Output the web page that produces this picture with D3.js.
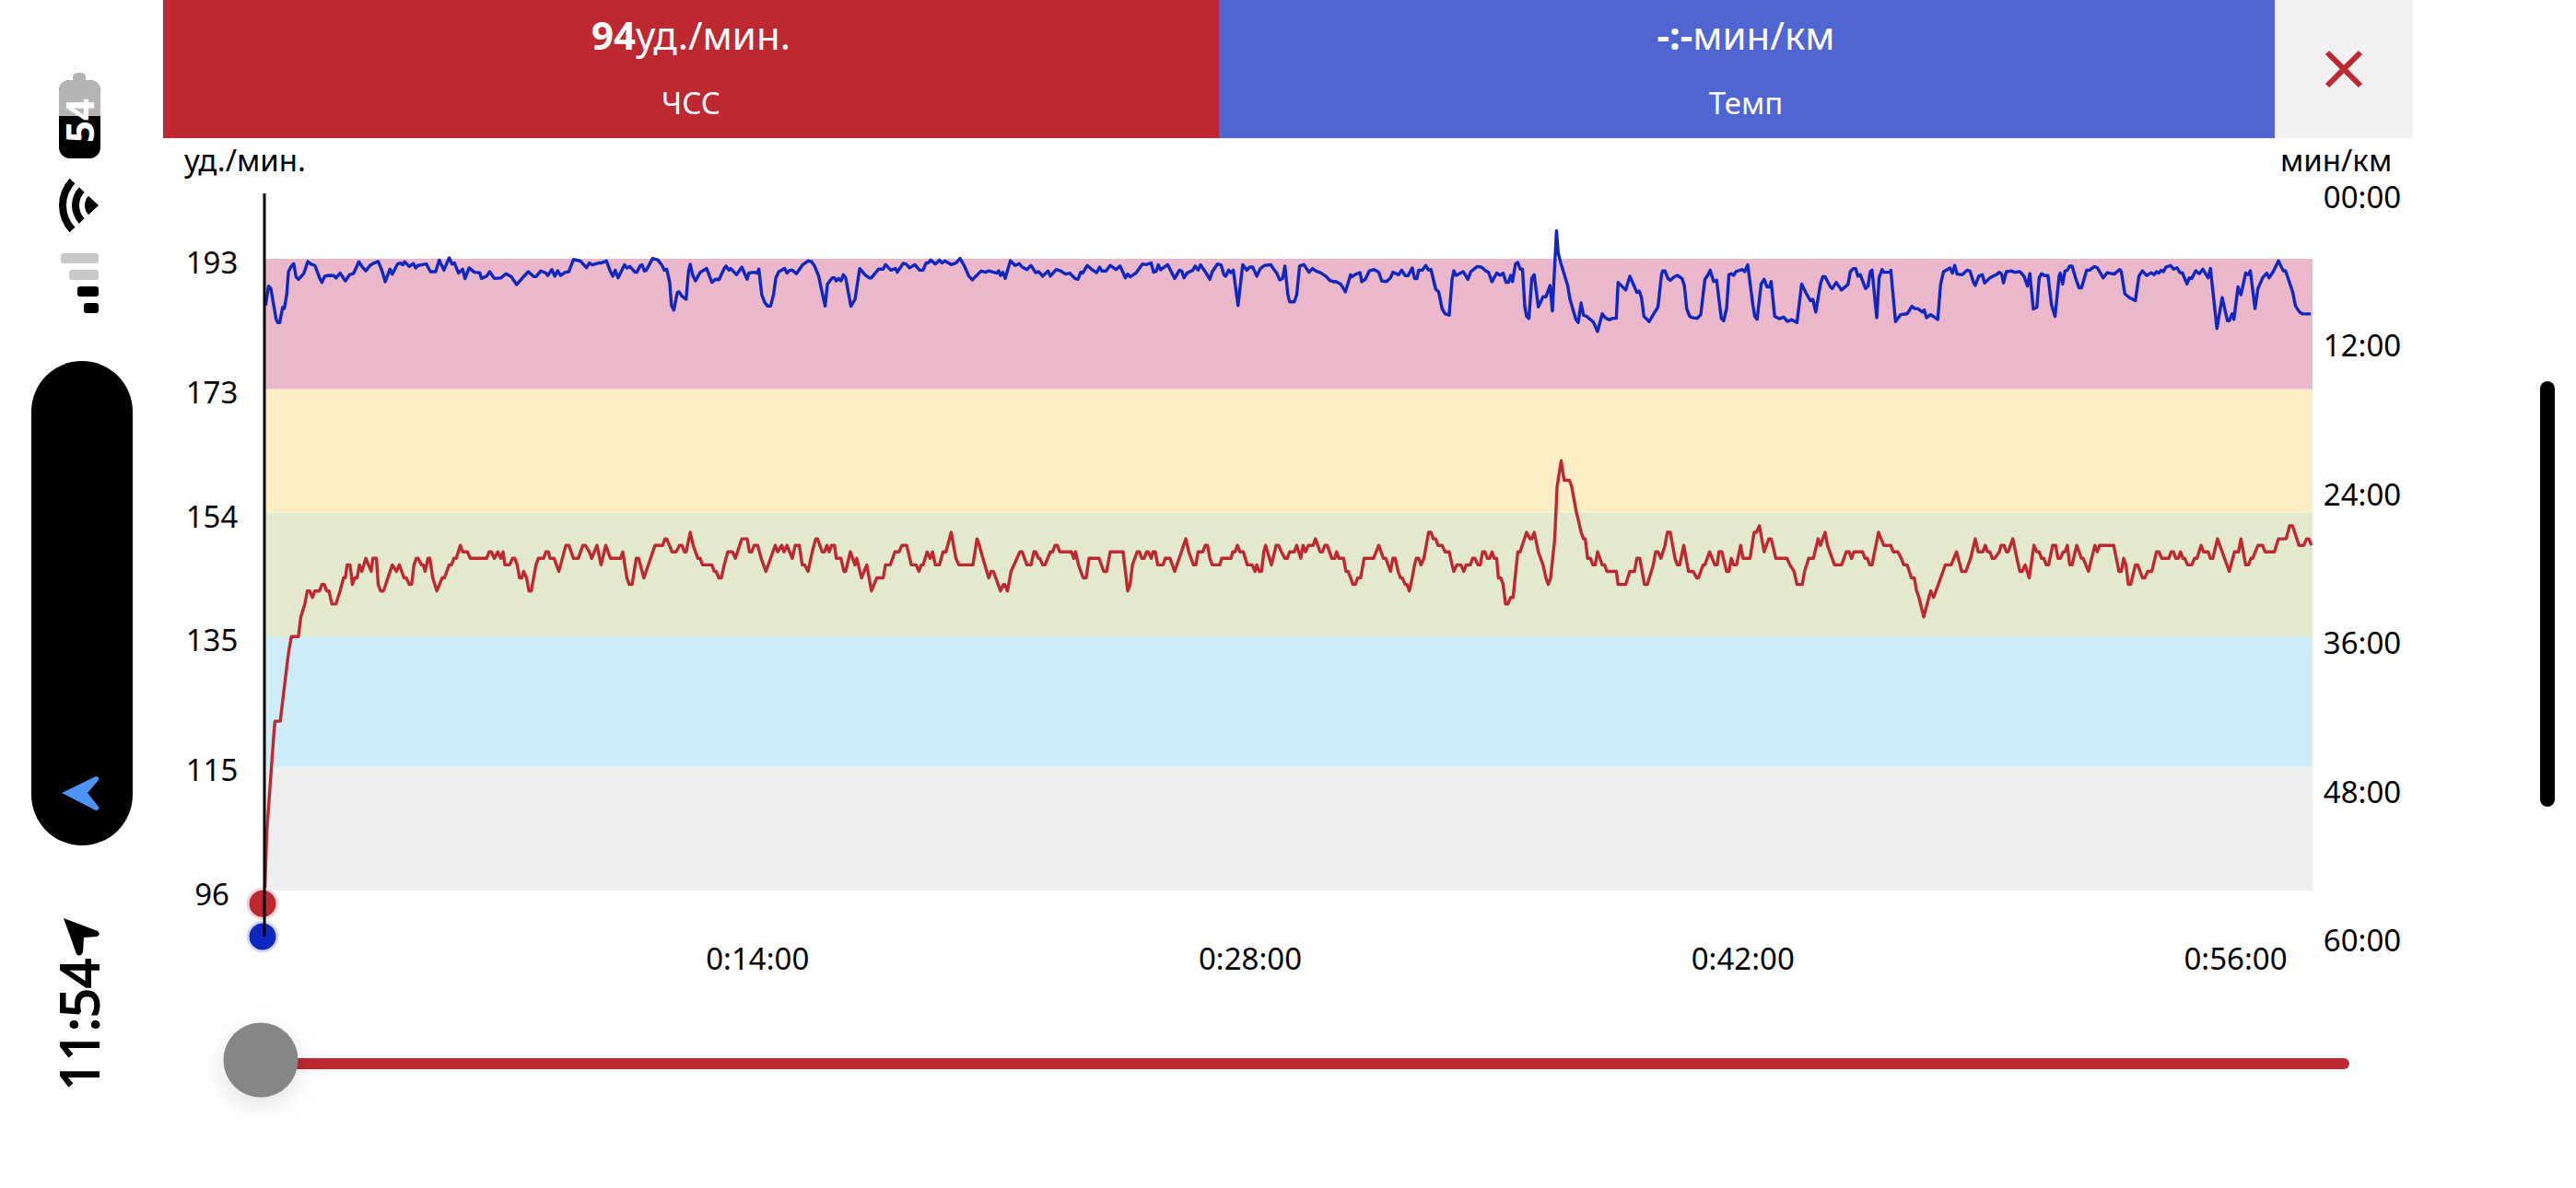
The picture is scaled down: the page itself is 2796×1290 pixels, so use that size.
<!DOCTYPE html>
<html>
<head>
<meta charset="utf-8">
<title>ЧСС / Темп</title>
<script src="https://cdn.jsdelivr.net/npm/d3@7/dist/d3.min.js"></script>
<style>
    html, body { margin: 0; padding: 0; background: #fff; }
    svg { display: block; }
    text { font-family: "Noto Sans", sans-serif; }
</style>
</head>
<body>
<svg id="chart" width="2796" height="1290"></svg>
<script>
// zone borders and axis ticks
var hrZones = [96, 115, 135, 154, 173, 193];
var zoneColors = ['#edeeee', '#cdecf7', '#e3e9cd', '#fbeec4', '#ebb7cb'];
var paceTicks = [0, 720, 1440, 2160, 2880, 3600];   // sec per km
var timeTicks = [840, 1680, 2520, 3360];            // sec
var totalTime = 3492;

// values under the cursor
var currentHr = 94;
var currentPace = 3600;

// [sec, bpm]
var heartRate = [
    [0,94],[4,105],[16,120],[18,122],[27,122],[39,131],[42,133],[46,135],[58,135],[62,138],[69,140],[73,142],[77,142],[82,141],[86,142],[94,142],[98,143],[102,143],[106,142],[110,142],[115,140],[122,140],[129,142],[135,144],[138,144],[141,146],[146,146],[150,143],[154,144],[158,144],[162,146],[166,145],[173,147],[182,145],[185,147],[191,147],[194,143],[198,142],[203,142],[218,146],[225,145],[230,146],[238,144],[242,144],[247,143],[251,143],[255,146],[259,147],[262,147],[268,146],[271,146],[274,145],[279,147],[282,147],[287,144],[294,142],[303,144],[307,144],[315,146],[319,146],[323,147],[327,147],[334,149],[338,148],[346,148],[351,147],[379,147],[383,148],[387,148],[392,147],[398,148],[403,147],[407,148],[410,146],[418,146],[423,147],[427,147],[431,146],[435,144],[439,144],[442,145],[447,144],[451,142],[455,142],[463,146],[467,147],[476,147],[480,148],[484,148],[487,147],[494,147],[502,145],[508,147],[514,149],[519,149],[527,147],[535,147],[543,149],[547,149],[554,148],[558,147],[567,149],[574,146],[582,149],
    [590,147],[607,147],[611,148],[618,144],[622,143],[627,143],[634,147],[638,147],[647,144],[666,149],[679,149],[683,150],[686,150],[695,148],[702,148],[708,149],[712,149],[716,148],[719,148],[726,151],[731,149],[739,147],[743,147],[747,146],[763,146],[767,145],[770,145],[775,144],[779,144],[784,146],[790,148],[798,148],[803,147],[814,150],[823,150],[827,148],[831,148],[835,149],[841,149],[847,147],[855,145],[871,149],[875,148],[882,149],[886,148],[891,149],[900,147],[905,149],[912,149],[917,146],[921,146],[927,145],[934,148],[940,150],[943,150],[951,148],[955,148],[959,149],[963,148],[967,149],[972,149],[975,147],[983,147],[988,145],[991,145],[999,148],[1007,146],[1010,147],[1018,144],[1027,146],[1035,142],[1044,144],[1055,144],[1059,146],[1067,146],[1075,148],[1082,148],[1087,149],[1095,149],[1103,146],[1111,146],[1116,145],[1120,146],[1123,146],[1130,148],[1135,147],[1139,148],[1144,146],[1151,146],
    [1157,148],[1162,148],[1171,151],[1179,147],[1184,146],[1208,146],[1215,150],[1219,149],[1225,147],[1235,144],[1239,145],[1243,145],[1255,142],[1260,143],[1262,143],[1267,142],[1273,145],[1288,148],[1292,148],[1300,146],[1307,146],[1312,148],[1315,148],[1320,147],[1322,147],[1327,146],[1331,146],[1340,148],[1344,148],[1348,149],[1352,149],[1356,148],[1376,148],[1380,147],[1383,148],[1388,146],[1396,144],[1401,144],[1406,147],[1423,147],[1431,145],[1436,145],[1442,148],[1464,148],[1472,142],[1476,143],[1480,146],[1488,148],[1492,148],[1496,147],[1500,147],[1504,148],[1507,148],[1512,147],[1515,148],[1519,148],[1523,146],[1532,146],[1536,147],[1544,147],[1552,145],[1571,150],[1576,148],[1584,146],[1588,146],[1592,148],[1600,148],[1604,149],[1608,149],[1612,147],[1616,146],[1629,146],[1632,147],[1648,147],[1651,148],[1655,148],[1659,149],[1663,148],[1669,148],[1676,146],[1684,146],[1689,145],[1692,146],[1696,145],[1700,145],[1704,148],[1707,149],[1717,146],[1725,149],[1729,149],[1734,148],[1740,147],[1744,147],[1748,148],
    [1756,148],[1760,149],[1767,147],[1771,149],[1775,148],[1780,149],[1788,149],[1792,150],[1800,148],[1804,148],[1808,149],[1812,149],[1820,147],[1825,147],[1828,148],[1832,147],[1840,147],[1844,145],[1848,145],[1856,143],[1860,143],[1864,144],[1869,144],[1875,147],[1891,147],[1900,149],[1908,147],[1912,147],[1920,145],[1924,147],[1928,147],[1933,145],[1937,144],[1940,144],[1945,143],[1948,143],[1952,142],[1957,144],[1961,146],[1964,147],[1968,147],[1972,146],[1977,147],[1985,151],[1989,151],[1993,150],[1997,150],[2001,149],[2008,149],[2013,148],[2020,148],[2025,146],[2028,145],[2033,146],[2040,146],[2045,145],[2049,146],[2056,146],[2060,147],[2064,147],[2069,146],[2073,146],[2077,148],[2081,148],[2085,147],[2089,147],[2093,148],[2097,147],[2101,147],[2104,144],[2108,144],[2112,143],[2116,140],[2120,140],[2125,141],[2129,141],[2137,148],[2141,148],[2152,151],[2158,150],[2161,150],[2165,151],[2172,148],[2180,146],[2185,144],[2189,143],[2193,144],[2200,150],[2204,158],[2211,162],[2216,159],[2225,159],[2229,158],[2237,154],[2240,153],[2245,151],[2249,150],[2252,150],[2256,147],[2261,147],[2265,146],[2269,146],[2273,148],[2281,146],[2285,146],[2289,145],[2305,145],[2308,143],[2321,143],[2328,145],
    [2336,145],[2340,147],[2345,147],[2353,143],[2358,143],[2368,146],[2372,148],[2376,148],[2381,147],[2388,149],[2392,151],[2397,151],[2405,147],[2409,146],[2413,146],[2420,149],[2428,145],[2436,145],[2442,144],[2445,144],[2453,146],[2456,146],[2464,148],[2473,146],[2477,146],[2480,148],[2485,148],[2493,145],[2497,145],[2501,147],[2505,146],[2510,146],[2517,149],[2521,147],[2533,147],[2540,151],[2544,151],[2549,152],[2557,148],[2565,150],[2569,150],[2577,147],[2596,147],[2601,146],[2608,145],[2613,143],[2622,143],[2626,145],[2633,147],[2641,147],[2649,150],[2653,149],[2661,151],[2665,149],[2677,146],[2689,146],[2697,148],[2702,148],[2706,147],[2710,148],[2725,148],[2729,147],[2733,147],[2737,146],[2741,146],[2752,151],[2761,149],[2773,149],[2777,148],[2785,148],[2791,147],[2795,146],[2801,146],[2808,144],[2813,144],[2817,142],[2821,141],[2829,138],[2841,142],[2846,141],[2866,146],[2876,146],[2885,148],[2894,145],
    [2901,145],[2909,147],[2917,150],[2922,148],[2930,148],[2934,149],[2938,148],[2942,148],[2946,147],[2950,147],[2958,148],[2961,149],[2966,149],[2970,148],[2973,148],[2981,150],[2988,147],[2993,145],[2997,145],[3002,146],[3009,144],[3017,149],[3022,148],[3026,148],[3030,147],[3034,147],[3038,146],[3042,146],[3049,149],[3054,149],[3058,147],[3062,147],[3067,148],[3070,148],[3074,149],[3078,146],[3082,146],[3090,149],[3098,147],[3101,147],[3110,145],[3121,149],[3125,148],[3129,149],[3153,149],[3162,145],[3166,145],[3170,147],[3174,146],[3178,143],[3182,143],[3190,146],[3194,146],[3202,144],[3206,144],[3211,145],[3218,145],[3226,148],[3230,148],[3235,147],[3247,147],[3251,148],[3255,148],[3259,147],[3263,147],[3267,148],[3271,147],[3274,147],[3279,146],[3286,146],[3291,147],[3295,147],[3302,149],[3306,148],[3314,148],[3318,147],[3322,147],[3330,150],[3350,145],[3359,148],[3366,148],[3370,150],[3378,146],[3383,146],[3387,147],[3390,147],[3399,149],[3407,149],[3411,148],[3427,148],[3434,150],[3447,150],[3453,152],[3458,152],[3469,149],[3477,149],[3482,150],[3486,150],[3490,149]
];

// [sec, sec per km]
var pace = [
    [2,543],[7,449],[11,461],[15,528],[20,610],[23,626],[26,626],[31,553],[34,557],[38,491],[41,379],[46,352],[50,340],[54,406],[58,416],[67,389],[74,330],[79,342],[86,349],[94,409],[98,431],[103,401],[110,397],[118,398],[122,410],[129,386],[138,424],[145,394],[152,388],[161,331],[167,357],[173,375],[180,349],[187,337],[194,330],[201,379],[206,428],[214,367],[218,391],[227,342],[232,337],[236,346],[239,331],[247,354],[254,340],[258,361],[262,349],[276,342],[283,379],[292,379],[298,323],[306,372],[315,312],[320,342],[324,337],[331,386],[338,367],[342,413],[349,361],[358,382],[367,384],[370,412],[379,401],[384,379],[392,412],[403,410],[412,389],[421,404],[430,442],[441,406],[450,379],[459,403],[463,403],[471,376],[480,386],[483,398],[490,369],[495,401],[500,375],[505,397],[513,382],[519,379],[527,320],[539,328],[549,360],[554,337],[559,346],[570,337],
    [574,337],[583,327],[589,372],[594,401],[598,372],[603,409],[614,346],[618,361],[623,354],[632,382],[635,382],[641,349],[644,346],[648,376],[651,372],[662,315],[671,323],[678,349],[682,372],[686,367],[691,431],[694,543],[698,565],[704,480],[707,477],[712,498],[719,513],[723,379],[726,343],[730,394],[735,424],[743,382],[754,364],[763,431],[769,416],[775,418],[784,364],[787,352],[792,372],[795,364],[805,394],[814,357],[823,416],[826,386],[835,382],[840,386],[843,367],[848,491],[853,528],[858,546],[863,546],[868,491],[872,409],[877,379],[887,364],[891,386],[896,372],[900,372],[907,389],[918,345],[927,327],[933,331],[938,352],[945,401],[950,468],[956,546],[960,439],[968,409],[972,409],[975,424],[979,412],[983,424],[987,394],[991,409],[1000,547],[1007,513],[1015,364],[1024,394],[1031,409],[1035,409],[1047,367],[1055,367],[1059,345],[1068,372],[1076,364],[1079,382],[1089,339],[1094,342],[1100,361],[1109,345],[1117,372],[1123,372],[1128,337],[1132,337],[1136,323],[1144,342],[1151,323],
    [1155,337],[1160,327],[1171,345],[1179,337],[1186,315],[1193,349],[1201,401],[1207,419],[1222,376],[1230,382],[1235,375],[1249,386],[1252,375],[1255,398],[1259,382],[1263,412],[1272,326],[1280,349],[1287,340],[1292,357],[1300,369],[1307,349],[1315,384],[1320,379],[1327,401],[1336,376],[1340,401],[1350,369],[1357,375],[1366,391],[1373,386],[1382,412],[1387,416],[1392,382],[1395,386],[1403,349],[1411,369],[1419,384],[1424,357],[1428,376],[1435,376],[1442,349],[1452,369],[1459,352],[1468,409],[1472,391],[1476,404],[1486,386],[1497,342],[1503,345],[1512,337],[1516,382],[1520,379],[1524,346],[1528,370],[1540,345],[1552,412],[1560,372],[1564,376],[1568,409],[1573,386],[1583,372],[1587,352],[1592,372],[1596,346],[1604,379],[1612,416],[1616,379],[1625,342],[1631,346],[1636,394],[1639,401],[1644,372],[1648,384],[1652,372],[1660,543],[1668,345],[1675,372],[1680,357],[1685,357],[1692,401],[1698,364],[1705,349],[1716,346],[1722,372],[1726,386],[1731,419],[1736,412],[1740,352],[1745,491],
    [1748,525],[1756,525],[1760,491],[1765,352],[1772,345],[1781,382],[1787,364],[1793,376],[1801,384],[1811,404],[1816,421],[1823,428],[1827,427],[1835,439],[1843,477],[1852,394],[1854,404],[1861,391],[1868,384],[1871,428],[1877,416],[1884,375],[1892,369],[1900,382],[1905,424],[1913,427],[1920,409],[1924,382],[1934,394],[1939,372],[1945,398],[1950,398],[1957,361],[1961,412],[1965,413],[1968,372],[1974,372],[1980,349],[1985,372],[1989,369],[1997,464],[2002,476],[2008,558],[2013,583],[2020,590],[2025,416],[2028,375],[2032,397],[2044,379],[2052,416],[2057,379],[2068,354],[2075,357],[2082,375],[2087,382],[2093,428],[2101,386],[2107,397],[2112,386],[2117,431],[2121,431],[2125,397],[2128,427],[2133,342],[2137,334],[2141,367],[2145,367],[2149,550],[2152,595],[2156,605],[2161,409],[2165,394],[2172,550],[2180,501],[2185,501],[2192,446],[2196,569],[2203,181],[2206,290],[2210,334],[2222,446],[2226,513],[2236,610],[2240,626],[2245,531],[2249,590],[2254,595],[2259,607],[2266,624],[2273,669],[2281,583],[2286,602],[2293,612],[2299,605],[2305,605],[2308,431],[2321,468],[2328,401],
    [2335,446],[2340,480],[2344,473],[2348,505],[2352,595],[2361,621],[2368,587],[2376,550],[2382,394],[2384,376],[2388,376],[2393,412],[2397,421],[2403,406],[2409,397],[2417,412],[2421,446],[2425,558],[2430,595],[2435,602],[2443,605],[2449,587],[2456,416],[2460,401],[2465,372],[2471,427],[2476,421],[2484,605],[2488,617],[2493,558],[2497,394],[2501,389],[2505,397],[2509,379],[2520,369],[2524,379],[2529,346],[2538,543],[2541,595],[2545,610],[2552,439],[2557,416],[2562,453],[2566,453],[2569,427],[2575,595],[2583,607],[2590,599],[2597,620],[2604,612],[2613,626],[2621,439],[2628,480],[2636,520],[2640,513],[2645,575],[2653,439],[2657,404],[2661,404],[2670,453],[2673,461],[2680,431],[2689,468],[2700,441],[2704,379],[2709,364],[2713,364],[2717,401],[2721,394],[2730,461],[2734,450],[2738,379],[2741,372],[2749,602],[2753,409],[2758,369],[2761,382],[2772,382],[2773,372],[2781,621],[2790,587],[2801,583],[2809,547],[2814,558],[2819,558],[2827,575],[2830,565],[2834,602],[2841,587],[2853,611],[2858,439],[2863,379],[2874,361],[2878,386],[2882,349],[2886,391],[2895,394],[2903,372],[2908,376],
    [2914,431],[2917,446],[2923,401],[2929,394],[2933,434],[2942,409],[2950,397],[2953,394],[2958,382],[2962,391],[2965,434],[2970,379],[2979,376],[2984,382],[2993,379],[3000,401],[3006,449],[3010,389],[3016,560],[3022,552],[3026,409],[3030,389],[3035,398],[3041,398],[3047,540],[3053,596],[3060,401],[3062,386],[3066,439],[3070,376],[3074,372],[3078,352],[3082,352],[3088,409],[3094,458],[3098,458],[3107,372],[3112,372],[3120,354],[3125,360],[3135,409],[3142,384],[3154,391],[3163,369],[3166,379],[3172,486],[3180,505],[3190,520],[3196,401],[3202,375],[3209,398],[3217,384],[3222,394],[3226,379],[3230,386],[3234,372],[3238,379],[3242,357],[3250,349],[3255,367],[3261,360],[3266,384],[3270,384],[3278,439],[3282,409],[3286,412],[3293,375],[3299,389],[3305,367],[3314,409],[3318,364],[3329,654],[3338,505],[3347,617],[3350,617],[3355,583],[3358,610],[3365,453],[3370,491],[3378,386],[3382,394],[3386,375],[3394,558],[3399,461],[3407,409],[3414,386],[3418,409],[3425,379],[3434,327],[3442,375],[3446,375],[3458,476],[3463,546],[3470,575],[3475,583],[3489,584]
];

var RED = '#bd2831';
var BLUE = '#0f27c1';

var svg = d3.select('#chart');

var x = d3.scaleLinear().domain([0, totalTime]).range([287, 2510]);
var hrY = d3.scaleLinear().domain([96, 193]).range([967, 281]);
var paceY = d3.scaleLinear().domain([0, 3600]).range([210, 1017]);

function pad(n)
{
    return (n < 10 ? '0' : '') + n;
}

// header
svg.append('rect').attr('x', 177).attr('y', 0).attr('width', 1146).attr('height', 150).attr('fill', RED);
svg.append('rect').attr('x', 1323).attr('y', 0).attr('width', 1146).attr('height', 150).attr('fill', '#4e65d2');
svg.append('rect').attr('x', 2469).attr('y', 0).attr('width', 150).attr('height', 150).attr('fill', '#f1f1f1');

function headerValue(cx, value, unit, title)
{
    var t = svg.append('text').attr('x', cx).attr('y', 54).attr('text-anchor', 'middle')
        .attr('fill', '#fff').attr('font-size', 42);
    t.append('tspan').attr('font-weight', 700).text(value);
    t.append('tspan').text(unit);
    svg.append('text').attr('x', cx).attr('y', 124).attr('text-anchor', 'middle')
        .attr('fill', '#fff').attr('font-size', 33).text(title);
}
headerValue(750, currentHr, 'уд./мин.', 'ЧСС');
headerValue(1895, '-:-', 'мин/км', 'Темп');

svg.append('path').attr('d', 'M2526,57L2562,93M2562,57L2526,93')
    .attr('stroke', RED).attr('stroke-width', 6).attr('fill', 'none');

// unit labels
svg.append('text').attr('x', 200).attr('y', 186).attr('font-size', 33).attr('fill', '#000').text('уд./мин.');
svg.append('text').attr('x', 2475).attr('y', 186).attr('font-size', 33).attr('fill', '#000').text('мин/км');

// heart rate zones
d3.range(zoneColors.length).forEach(function(i)
{
    svg.append('rect')
        .attr('x', x(0))
        .attr('y', hrY(hrZones[i + 1]))
        .attr('width', x(totalTime) - x(0))
        .attr('height', hrY(hrZones[i]) - hrY(hrZones[i + 1]))
        .attr('fill', zoneColors[i]);
});

// axes
var hrAxis = svg.append('g').attr('transform', 'translate(' + x(0) + ',0)')
    .call(d3.axisLeft(hrY).tickValues(hrZones).tickSize(0));
hrAxis.select('.domain').remove();
hrAxis.selectAll('text').attr('x', 230 - x(0)).attr('text-anchor', 'middle').attr('dy', '0.46em');

var paceAxis = svg.append('g').attr('transform', 'translate(' + x(totalTime) + ',0)')
    .call(d3.axisRight(paceY).tickValues(paceTicks).tickSize(0).tickFormat(function(d)
    {
        return pad(d / 60) + ':00';
    }));
paceAxis.select('.domain').remove();
paceAxis.selectAll('text').attr('x', 2564 - x(totalTime)).attr('text-anchor', 'middle').attr('dy', '0.47em');

var timeAxis = svg.append('g').attr('transform', 'translate(0,1030)')
    .call(d3.axisBottom(x).tickValues(timeTicks).tickSize(0).tickFormat(function(d)
    {
        return '0:' + pad(d / 60) + ':00';
    }));
timeAxis.select('.domain').remove();
timeAxis.selectAll('text').attr('y', 0).attr('dy', '0.71em');

svg.selectAll('.tick text')
    .attr('font-family', '"Noto Sans", sans-serif')
    .attr('font-size', 33)
    .attr('fill', '#000');

// lines
var hrLine = d3.line()
    .x(function(d) { return x(d[0]); })
    .y(function(d) { return hrY(d[1]); });

var paceLine = d3.line()
    .x(function(d) { return x(d[0]); })
    .y(function(d) { return paceY(d[1]); });

svg.append('path').attr('d', paceLine(pace))
    .attr('fill', 'none').attr('stroke', BLUE).attr('stroke-width', 3.4).attr('stroke-linejoin', 'round');
svg.append('path').attr('d', hrLine(heartRate))
    .attr('fill', 'none').attr('stroke', RED).attr('stroke-width', 3.4).attr('stroke-linejoin', 'round');

// cursor dots and line
svg.append('circle').attr('cx', x(0) - 2).attr('cy', hrY(currentHr)).attr('r', 16)
    .attr('fill', RED).attr('stroke', '#eed5da').attr('stroke-width', 3);
svg.append('circle').attr('cx', x(0) - 2).attr('cy', paceY(currentPace)).attr('r', 16)
    .attr('fill', BLUE).attr('stroke', '#d5d9ef').attr('stroke-width', 3);
svg.append('line').attr('x1', x(0)).attr('x2', x(0)).attr('y1', paceY(0)).attr('y2', paceY(currentPace))
    .attr('stroke', '#000').attr('stroke-width', 3);

// slider
svg.append('line').attr('x1', 283).attr('x2', 2544).attr('y1', 1155).attr('y2', 1155)
    .attr('stroke', RED).attr('stroke-width', 12).attr('stroke-linecap', 'round');
svg.append('circle').attr('cx', 283).attr('cy', 1151).attr('r', 40.5).attr('fill', '#868686')
    .style('filter', 'drop-shadow(0px 8px 14px rgba(0,0,0,0.12))');

// scroll indicator on the right
svg.append('rect').attr('x', 2757).attr('y', 414).attr('width', 16).attr('height', 462).attr('rx', 8).attr('fill', '#000');

// rotated status bar on the left
var bar = svg.append('g');
bar.append('rect').attr('x', 34).attr('y', 392).attr('width', 110).attr('height', 526).attr('rx', 55).attr('fill', '#000');
bar.append('path').attr('d', 'M67,861L104,843Q108,843 107,847L95,861L107,876Q108,880 104,880Z').attr('fill', '#4e93f5');

bar.append('path').attr('d', 'M69,997L106,1011Q110,1015 105,1017L91,1018L90,1034Q87,1040 83,1036Z').attr('fill', '#000');
bar.append('text').attr('transform', 'translate(107,1184) rotate(-90)')
    .attr('font-family', '"Liberation Sans", sans-serif').attr('font-size', 56).attr('font-weight', 400)
    .attr('stroke', '#000').attr('stroke-width', 2).text('11:54');

// signal bars
var signalBars = [[66, 275, '#c8c8c8'], [75, 293, '#c8c8c8'], [84, 311, '#000'], [91, 329, '#000']];
signalBars.forEach(function(b)
{
    bar.append('rect').attr('x', b[0]).attr('y', b[1]).attr('width', 107 - b[0]).attr('height', 11).attr('rx', 3).attr('fill', b[2]);
});

// wifi
var wifiArc = d3.arc().startAngle(-Math.PI / 2 - 0.75).endAngle(-Math.PI / 2 + 0.75);
[[0, 15], [21, 29], [35, 43]].forEach(function(r)
{
    bar.append('path').attr('transform', 'translate(107,223)')
        .attr('d', wifiArc({innerRadius: r[0], outerRadius: r[1]}))
        .attr('fill', '#000');
});

// battery
bar.append('rect').attr('x', 64).attr('y', 87).attr('width', 45).attr('height', 85).attr('rx', 12).attr('fill', '#000');
bar.append('path').attr('d', 'M64,126V99Q64,87 76,87H97Q109,87 109,99V126Z').attr('fill', '#b4b4b4');
bar.append('path').attr('d', 'M79,87V84Q79,79 86,79Q93,79 93,84V87Z').attr('fill', '#b4b4b4');
bar.append('text').attr('transform', 'translate(102,155) rotate(-90)')
    .attr('font-family', '"Liberation Sans", sans-serif').attr('font-size', 42).attr('font-weight', 700)
    .attr('fill', '#fff').text('54');
</script>
</body>
</html>
